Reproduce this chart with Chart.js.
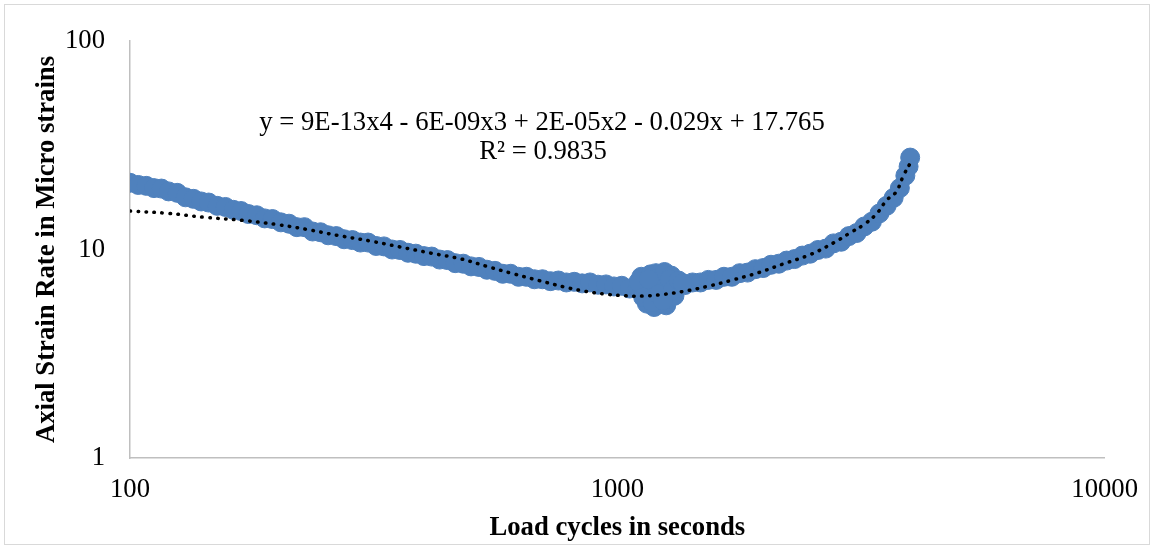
<!DOCTYPE html>
<html>
<head>
<meta charset="utf-8">
<script src="https://cdn.jsdelivr.net/npm/chart.js@4"></script>
<style>
  html, body { margin: 0; padding: 0; background: #fff; }
  #wrap { width: 1154px; height: 546px; }
</style>
</head>
<body>
<div id="wrap"><canvas id="strainChart" width="1154" height="546"></canvas></div>
<script>
// load cycles (s) and axial strain rate
const cycles = [100, 104, 108, 112, 116, 120, 125, 130, 135, 140, 145, 151, 157, 163, 169, 175, 182, 189, 196, 204,
  212, 220, 228, 237, 246, 255, 265, 275, 286, 297, 308, 320, 332, 345, 358, 372, 386, 401, 416, 432,
  448, 465, 483, 501, 520, 540, 561, 582, 604, 627, 651, 676, 702, 729, 757, 786, 816, 847, 879, 913,
  948, 984, 1021, 1060, 1100, 1142, 1185, 1230, 1277, 1325, 1375, 1427, 1481, 1537, 1595, 1655, 1718, 1783, 1850, 1920,
  1992, 2067, 2145, 2226, 2310, 2397, 2487, 2580, 2677, 2777, 2880, 2987, 3098, 3212, 3330, 3450, 3570, 3690, 3800, 3900,
  3960, 3990,
  1120, 1150, 1170, 1190, 1200, 1210, 1230, 1250, 1260, 1270, 1290, 1310,
  1105, 1130, 1160, 1180, 1215, 1240, 1280, 1300, 1335, 1360];
const strainRate = [20.9, 20.4, 20.2, 19.7, 19.6, 19.0, 18.7, 17.8, 17.5, 17.0, 16.8, 16.2, 16.0, 15.5, 15.3, 14.8, 14.6, 14.1, 14.0, 13.5,
  13.3, 12.8, 12.8, 12.2, 12.1, 11.7, 11.6, 11.2, 11.1, 10.8, 10.8, 10.4, 10.35, 10.0, 9.95, 9.65, 9.55, 9.3, 9.25, 8.95,
  8.9, 8.6, 8.55, 8.3, 8.25, 8.0, 7.9, 7.65, 7.65, 7.4, 7.4, 7.2, 7.2, 7.05, 7.1, 6.95, 7.0, 6.88, 6.95, 6.78,
  6.8, 6.65, 6.7, 6.5, 6.6, 6.35, 6.3, 6.5, 6.55, 6.75, 6.75, 6.95, 6.95, 7.15, 7.15, 7.4, 7.4, 7.7, 7.75, 8.05,
  8.15, 8.45, 8.55, 8.85, 9.0, 9.35, 9.55, 9.95, 10.1, 10.7, 10.9, 11.6, 12.0, 12.9, 13.6, 14.9, 16.2, 17.7, 19.7, 22.6,
  25.0, 27.6,
  7.4, 5.5, 7.6, 5.3, 7.7, 7.3, 5.5, 7.8, 5.4, 5.8, 7.5, 6.0,
  7.0, 5.9, 7.2, 5.6, 6.1, 5.7, 7.2, 6.4, 7.1, 6.9];

// 4th order polynomial trendline as drawn (dotted)
const trendX = [100, 120, 141, 170, 199, 230, 266, 310, 357, 415, 479, 540, 612, 690, 781, 860, 950, 1040, 1127, 1250,
  1404, 1550, 1708, 1950, 2182, 2500, 2785, 3000, 3226, 3418, 3566, 3734, 3864, 4000];
const trendY = [15.3, 14.9, 14.3, 13.8, 13.2, 12.5, 11.7, 11.0, 10.3, 9.6, 9.0, 8.3, 7.65, 7.1, 6.6, 6.3, 6.1, 6.0, 5.98, 6.1,
  6.37, 6.7, 7.1, 7.75, 8.5, 9.5, 10.8, 12.0, 13.3, 15.0, 17.2, 18.9, 22.6, 26.2];

const xTicks = [100, 1000, 10000];
const yTicks = [1, 10, 100];
const equationLines = ['y = 9E-13x4 - 6E-09x3 + 2E-05x2 - 0.029x + 17.765', 'R² = 0.9835'];

const serif = '"Liberation Serif", "Times New Roman", serif';
const fontSize = 26.7;

// outer frame + trendline equation
const extras = {
  id: 'extras',
  afterDraw(chart) {
    const ctx = chart.ctx;
    ctx.save();
    ctx.strokeStyle = '#d9d9d9';
    ctx.lineWidth = 1;
    ctx.strokeRect(4.5, 4.5, 1145, 540);
    ctx.fillStyle = '#000';
    ctx.font = fontSize + 'px ' + serif;
    ctx.textAlign = 'center';
    ctx.textBaseline = 'alphabetic';
    ctx.fillText(equationLines[0], 542, 130);
    ctx.fillText(equationLines[1], 543, 159);
    ctx.restore();
  }
};

const chartCanvas = document.getElementById('strainChart');

new Chart(chartCanvas, {
  type: 'scatter',
  data: {
    datasets: [{
      label: 'trend',
      data: trendX.map((x, i) => ({ x: x, y: trendY[i] })),
      showLine: true,
      borderColor: '#000',
      borderWidth: 3.5,
      borderDash: [0.5, 7.5],
      borderCapStyle: 'round',
      tension: 0.4,
      pointRadius: 0,
      order: 0
    }, {
      label: 'data',
      data: cycles.map((x, i) => ({ x: x, y: strainRate[i] })),
      backgroundColor: '#4f81bd',
      borderColor: '#4f81bd',
      borderWidth: 1,
      pointRadius: 9.5,
      order: 1
    }]
  },
  options: {
    responsive: false,
    animation: false,
    layout: { padding: { left: 0, right: 46, top: 40, bottom: 0 } },
    plugins: {
      legend: { display: false },
      tooltip: { enabled: false }
    },
    scales: {
      x: {
        type: 'logarithmic',
        min: 100,
        max: 10000,
        afterBuildTicks: (s) => { s.ticks = xTicks.map(v => ({ value: v })); },
        afterFit: (s) => { s.height = 88; },
        grid: { display: false, drawTicks: false },
        border: { display: true, color: '#bfbfbf', width: 1.5 },
        ticks: {
          color: '#000',
          padding: 16,
          maxRotation: 0,
          font: { family: serif, size: fontSize },
          callback: (v) => String(v)
        },
        title: {
          display: true,
          text: 'Load cycles in seconds',
          color: '#000',
          font: { family: serif, size: fontSize, weight: 'bold' },
          padding: { top: 0, bottom: 2 }
        }
      },
      y: {
        type: 'logarithmic',
        min: 1,
        max: 100,
        afterBuildTicks: (s) => { s.ticks = yTicks.map(v => ({ value: v })); },
        afterFit: (s) => { s.width = 130; },
        grid: { display: false, drawTicks: false },
        border: { display: true, color: '#bfbfbf', width: 1.5 },
        ticks: {
          color: '#000',
          padding: 25,
          font: { family: serif, size: fontSize },
          callback: (v) => String(v)
        },
        title: {
          display: true,
          text: 'Axial Strain Rate in Micro strains',
          color: '#000',
          font: { family: serif, size: fontSize, weight: 'bold' },
          padding: { top: 31, bottom: 0 }
        }
      }
    }
  },
  plugins: [extras]
});
</script>
</body>
</html>
